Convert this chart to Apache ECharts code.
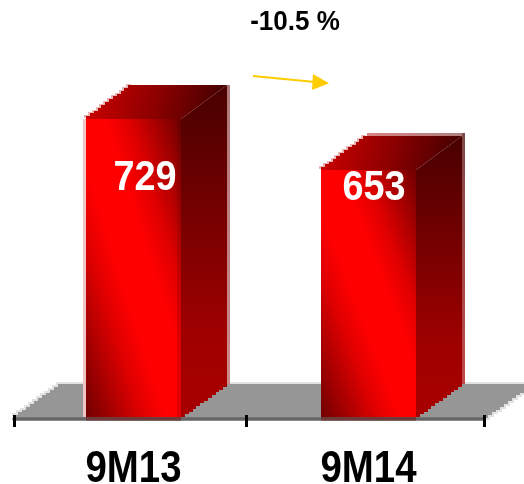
<!DOCTYPE html>
<html>
<head>
<meta charset="utf-8">
<style>html,body{margin:0;padding:0;background:#fff}#c{width:524px;height:484px}</style>
<script src="https://cdn.jsdelivr.net/npm/echarts@6/dist/echarts.min.js"></script>
</head>
<body>
<div id="c"></div>
<script>
const categories = ['9M13', '9M14'];
const values = [729, 653];
const changeLabel = '-10.5 %';

// Truncated value scale
const axisMin = 282;
const axisMax = 800;

// Pseudo-3D box proportions
const FRONT_W = 95, DEPTH_X = 46, DEPTH_Y = 34, SHIFT_X = 2, LIFT = 2;
const FONT = '"Liberation Sans", Arial, sans-serif';
const labelAnchors = [{dx: 11.5, dy: 59}, {dx: 5.5, dy: 18.5}];
const boxTrim = [{left: true, right: ['#b07878', '#d08888'], seam: true}, {top: true, right: ['#804848', '#c04848']}];

// Polygon corner run that climbs in whole pixel steps
function stairs(x0, y0, x1, y1, n) {
  const pts = [];
  for (let i = 0; i < n; i++) {
    const ax = Math.round(x0 + (x1 - x0) * i / n);
    const bx = Math.round(x0 + (x1 - x0) * (i + 1) / n);
    const ay = Math.round(y0 + (y1 - y0) * i / n);
    const by = Math.round(y0 + (y1 - y0) * (i + 1) / n);
    pts.push([ax, ay], [ax, by]);
    if (i === n - 1) pts.push([bx, by]);
  }
  return pts;
}

function renderFloor(params) {
  const cs = params.coordSys;
  const left = cs.x, right = cs.x + cs.width, y = cs.y + cs.height - 1;
  const back = y - 34, run = 48;
  const pts = [[left, y]]
    .concat(stairs(left, y, left + run, back, 12))
    .concat([[right + run, back]])
    .concat(stairs(right + run, back, right, y, 12));
  const halo = pts.map(q => [q[0] - 2, q[1] - 2]);
  const haloRight = pts.map(q => [q[0] + 2, q[1] + 2]);
  return {type: 'group', children: [
    {type: 'polygon', shape: {points: halo}, style: {fill: '#e2e2e2'}},
    {type: 'polygon', shape: {points: haloRight}, style: {fill: '#e2e2e2'}},
    {type: 'polygon', shape: {points: pts}, style: {fill: '#969696'}},
    {type: 'rect', shape: {x: 0, y: y + 2.5, width: 524, height: 8}, style: {fill: '#fff'}}
  ]};
}

function renderBox(params, api) {
  const i = params.dataIndex;
  const p = api.coord([api.value(0), api.value(1)]);
  const base = api.coord([api.value(0), axisMin])[1];
  const x0 = Math.round(p[0] - FRONT_W / 2 + SHIFT_X);
  const x1 = x0 + FRONT_W;
  const top = Math.round(p[1]);
  const bottom = base - LIFT;
  const h = bottom - top;
  const backY = top - DEPTH_Y;
  const floorBackY = bottom - DEPTH_Y + 1;
  const trim = boxTrim[i];
  const children = [];

  if (trim.left) children.push({type: 'rect', shape: {x: x0 - 3, y: top, width: 3, height: h}, style: {fill: '#f0c4c4'}});
  const rightTop = backY - (trim.top ? 3 : 0);
  children.push({
    type: 'rect',
    shape: {x: x1 + DEPTH_X, y: rightTop, width: 3, height: floorBackY - rightTop},
    style: {fill: {type: 'linear', x: 0, y: 0, x2: 0, y2: 1, colorStops: [{offset: 0, color: trim.right[0]}, {offset: 1, color: trim.right[1]}]}}
  });
  if (trim.top) children.push({
    type: 'rect',
    shape: {x: x0 + DEPTH_X, y: backY - 3, width: FRONT_W, height: 3},
    style: {fill: {type: 'linear', x: 0, y: 0, x2: 1, y2: 0, colorStops: [{offset: 0, color: '#d88080'}, {offset: 1, color: '#b08080'}]}}
  });

  // Roof, with a soft fringe along its stepped edge
  const roofEdge = stairs(x0, top, x0 + DEPTH_X, backY, 12);
  children.push({
    type: 'polygon',
    shape: {points: roofEdge.map(q => [q[0] - 2, q[1] - 1]).concat([[x1, top]])},
    style: {fill: '#eab4b4'}
  });
  children.push({
    type: 'polygon',
    shape: {points: roofEdge.concat([[x1 + DEPTH_X, backY], [x1, top]])},
    style: {fill: {type: 'linear', x: 0, y: 0, x2: 1, y2: 1, colorStops: [
      {offset: 0, color: '#d00000'}, {offset: 0.5, color: '#8c0000'}, {offset: 1, color: '#3c0000'}
    ]}}
  });
  // Right side wall
  children.push({
    type: 'polygon',
    shape: {points: [[x1, top], [x1 + DEPTH_X, backY], [x1 + DEPTH_X, floorBackY]].concat(stairs(x1 + DEPTH_X, floorBackY, x1, bottom, 12))},
    style: {fill: {type: 'linear', x: 0, y: 0, x2: 0, y2: 1, colorStops: [
      {offset: 0, color: '#480000'}, {offset: 0.75, color: '#a00000'}, {offset: 1, color: '#a80000'}
    ]}}
  });
  // Front wall: the bright ridge follows the face diagonal
  const len2 = FRONT_W * FRONT_W + h * h;
  children.push({
    type: 'rect',
    shape: {x: x0, y: top, width: FRONT_W, height: h},
    style: {fill: {
      type: 'linear', x: 0, y: 1,
      x2: 2 * h * h / len2, y2: 1 - 2 * FRONT_W * FRONT_W / len2,
      colorStops: [
        {offset: 0, color: '#700000'}, {offset: 0.3, color: '#e00000'}, {offset: 0.42, color: '#ff0000'},
        {offset: 0.6, color: '#ff0000'}, {offset: 0.72, color: '#e00000'}, {offset: 1, color: '#700000'}
      ]
    }}
  });
  if (trim.seam) children.push({type: 'rect', shape: {x: x1 - 4, y: top, width: 4, height: h}, style: {fill: 'rgba(60,0,0,0.14)'}});
  // Axis line seen through the box foot
  children.push({type: 'rect', shape: {x: x0, y: bottom, width: FRONT_W, height: 3.5}, style: {fill: '#703a3a'}});
  // Value label
  children.push({
    type: 'text',
    x: x0 + FRONT_W / 2 + labelAnchors[i].dx,
    y: top + labelAnchors[i].dy,
    scaleX: 0.88,
    style: {
      x: 0, y: 0,
      text: String(api.value(1)),
      fill: '#fff', font: 'bold 43px ' + FONT, align: 'center', verticalAlign: 'middle'
    }
  });
  // Category label
  children.push({
    type: 'text',
    x: x0 + FRONT_W / 2,
    y: base + 51,
    scaleX: 0.873,
    style: {
      x: 0, y: 0,
      text: categories[api.value(0)],
      fill: '#000', font: 'bold 44px ' + FONT, align: 'center', verticalAlign: 'middle'
    }
  });
  return {type: 'group', children: children};
}

const chart = echarts.init(document.getElementById('c'), null, {renderer: 'canvas'});
chart.setOption({
  animation: false,
  backgroundColor: '#fff',
  grid: {left: 14, width: 470, top: 71, bottom: 65, outerBoundsMode: 'none'},
  xAxis: [
    {
      type: 'category', data: categories, position: 'bottom',
      axisLine: {show: true, onZero: false, lineStyle: {color: '#666', width: 3.5}},
      axisTick: {show: false},
      axisLabel: {show: false},
      splitLine: {show: false}
    },
    {
      // Carries the tick marks only
      type: 'value', min: 0, max: 2, position: 'bottom', offset: -4, gridIndex: 0,
      axisLine: {show: false},
      axisTick: {show: true, customValues: [0, 0.987, 2], length: 12, lineStyle: {color: '#000', width: 3}},
      axisLabel: {show: false},
      splitLine: {show: false}
    }
  ],
  yAxis: {type: 'value', min: axisMin, max: axisMax, show: false, splitLine: {show: false}},
  series: [
    {type: 'custom', name: 'floor', z: 0, silent: true, coordinateSystem: 'cartesian2d', xAxisIndex: 0, clip: false, data: [[0, axisMin]], renderItem: renderFloor},
    {type: 'custom', name: 'value', z: 3, silent: true, coordinateSystem: 'cartesian2d', xAxisIndex: 0, clip: false,
      data: values.map((v, i) => [i, v]), encode: {x: 0, y: 1}, renderItem: renderBox}
  ],
  graphic: [
    {type: 'text', z: 10, x: 295, y: 22, scaleX: 0.93, style: {x: 0, y: 0, text: changeLabel, fill: '#000', font: 'bold 28px ' + FONT, align: 'center', verticalAlign: 'middle'}},
    {type: 'line', z: 10, shape: {x1: 253, y1: 76, x2: 315, y2: 82}, style: {stroke: '#ffcc00', lineWidth: 2}},
    {type: 'polygon', z: 10, shape: {points: [[329, 83.3], [313, 74], [312, 90]]}, style: {fill: '#ffcc00'}}
  ]
});
</script>
</body>
</html>
